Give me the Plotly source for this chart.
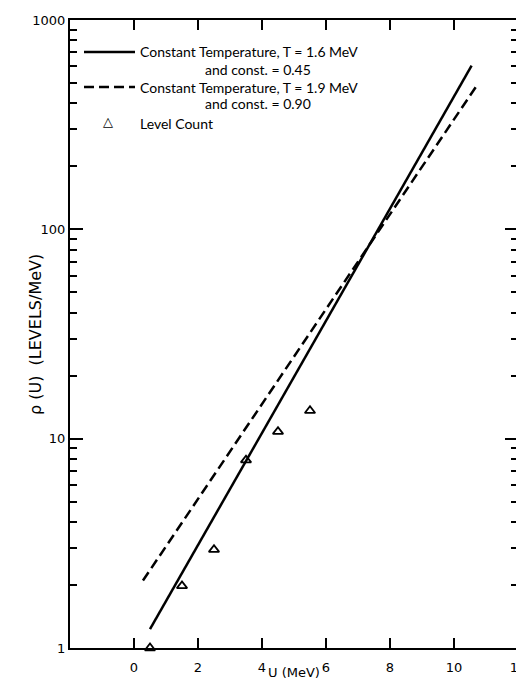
import plotly.graph_objects as go

# ---- data ----
U_solid = [0.5, 10.55]          # MeV, constant temperature T=1.6 MeV line end points
rho_solid = [1.23, 605]
U_dash = [0.28, 10.7]           # MeV, constant temperature T=1.9 MeV line end points
rho_dash = [2.1, 483]
U_count = [0.5, 1.5, 2.5, 3.5, 4.5, 5.5]   # level count points
rho_count = [1, 1.98, 2.95, 7.9, 10.8, 13.6]

x_ticks = [0, 2, 4, 6, 8, 10, 12]
x_ticktext = ["0", "2", "4", "6", "8", "10", "12"]
y_ticks = [1, 10, 100, 1000]
y_ticktext = ["1", "10", "100", "1000"]
y_minor = [m * 10 ** d for d in range(3) for m in range(2, 10)]

legend_lines = [
    "Constant Temperature, T = 1.6 MeV",
    "and const. = 0.45",
    "Constant Temperature, T = 1.9 MeV",
    "and const. = 0.90",
    "Level Count",
]
x_title = "U (MeV)"
y_title = "ρ (U)\u00a0\u00a0(LEVELS/MeV)"

FONT = "Lato"
TICKFONT = "DejaVu Sans"
OFF = 8                      # default page body margin
PAGE_W, PAGE_H = 524, 681
W, H = PAGE_W - OFF, PAGE_H - OFF
# plot area in page pixels: x 70..518, y 20..648
ML, MR, MT, MB = 70 - OFF, PAGE_W - 518, 20 - OFF, PAGE_H - 648
PW, PH = W - ML - MR, H - MT - MB


def px(x):
    return (x - OFF - ML) / PW


def py(y):
    return (H - MB - (y - OFF)) / PH


fig = go.Figure()
fig.add_trace(go.Scatter(x=U_solid, y=rho_solid, mode="lines",
                         line=dict(color="black", width=2.5), showlegend=False))
fig.add_trace(go.Scatter(x=U_dash, y=rho_dash, mode="lines",
                         line=dict(color="black", width=2.5, dash="10px,5px"),
                         showlegend=False))
fig.add_trace(go.Scatter(x=U_count, y=rho_count, mode="markers",
                         marker=dict(symbol="triangle-up-open", size=9, color="black",
                                     line=dict(width=1.8, color="black")),
                         cliponaxis=False, showlegend=False))

# manual legend (sample lines + text)
fig.add_shape(type="line", xref="paper", yref="paper", x0=px(84), x1=px(135),
              y0=py(52), y1=py(52), line=dict(color="black", width=2.5))
fig.add_shape(type="line", xref="paper", yref="paper", x0=px(84), x1=px(135),
              y0=py(87), y1=py(87), line=dict(color="black", width=2.5, dash="10px,5px"))
fig.add_annotation(xref="paper", yref="paper", x=px(108), y=py(122), text="<b>△</b>",
                   showarrow=False, font=dict(family="DejaVu Sans", size=13, color="black"),
                   xanchor="center", yanchor="middle")
leg_pos = [(138, 52), (203, 69), (138, 87), (203, 103), (138, 123)]
for txt, (lx, ly) in zip(legend_lines, leg_pos):
    fig.add_annotation(xref="paper", yref="paper", x=px(lx), y=py(ly), text=txt,
                       showarrow=False, xanchor="left", yanchor="middle",
                       font=dict(family=FONT, size=14, color="black"))

# axis titles placed close to the axes, as in the original
fig.add_annotation(xref="paper", yref="paper", x=px(35), y=py(335), text=y_title,
                   textangle=-90, showarrow=False, xanchor="center", yanchor="middle",
                   font=dict(family=TICKFONT, size=16, color="black"))
fig.add_annotation(xref="paper", yref="paper", x=px(294), y=py(672), text=x_title,
                   showarrow=False, xanchor="center", yanchor="middle",
                   font=dict(family=TICKFONT, size=13, color="black"))

axis_common = dict(showline=True, linewidth=2, linecolor="black", mirror="allticks",
                   ticks="inside", tickcolor="black", tickwidth=1.5,
                   showgrid=False, zeroline=False, ticklabeloverflow="allow",
                   tickfont=dict(family=TICKFONT, size=13, color="black"))

fig.update_xaxes(range=[-2, 12], tickvals=x_ticks, ticktext=x_ticktext, ticklen=10,
                 ticklabelstandoff=6, **axis_common)
fig.update_yaxes(type="log", range=[0, 3], tickvals=y_ticks, ticktext=y_ticktext,
                 ticklen=13, ticklabelstandoff=0,
                 minor=dict(tickvals=y_minor, ticks="inside", ticklen=7,
                            tickcolor="black", tickwidth=1.5),
                 **axis_common)

fig.update_layout(width=W, height=H, margin=dict(l=ML, r=MR, t=MT, b=MB, autoexpand=False),
                  paper_bgcolor="white", plot_bgcolor="white", showlegend=False,
                  font=dict(family=FONT, color="black"))

fig.write_html("out.html")
